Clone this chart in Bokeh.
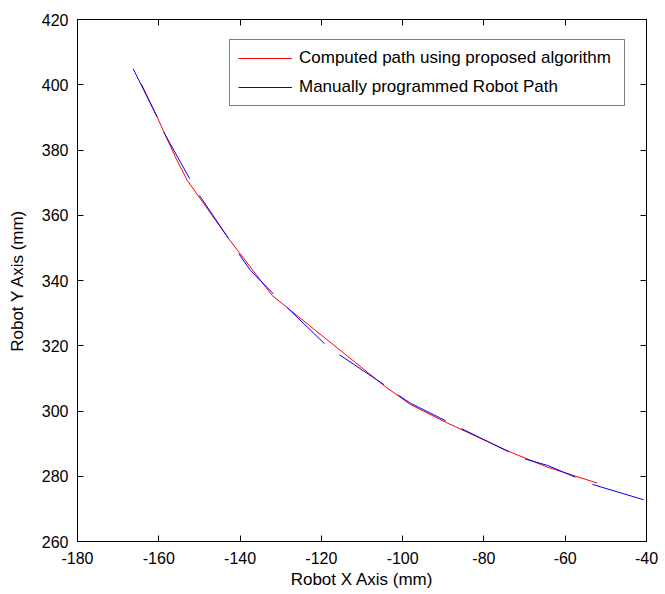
from bokeh.plotting import figure
from bokeh.models import Range1d, LinearAxis, SingleIntervalTicker, Legend, LegendItem, CustomJSTickFormatter
from bokeh.embed import file_html
from bokeh.resources import INLINE

# Computed path (red), continuous polyline
red_x = [-164.3, -160.4, -155.9, -153.0, -142.8, -132.1, -104.6, -98.1, -89.0, -73.5, -64.4, -52.1]
red_y = [400.3, 390.1, 377.8, 370.7, 352.8, 335.4, 307.8, 302.0, 296.3, 287.4, 282.8, 277.9]

# Manually programmed path (blue), separate segments
blue_xs = [
    [-166.3, -160.4],
    [-158.8, -152.4],
    [-150.0, -142.8],
    [-140.3, -137.4, -131.8],
    [-128.4, -119.2],
    [-115.5, -104.6],
    [-101.1, -98.1, -89.4],
    [-85.5, -73.9],
    [-69.9, -64.3, -57.5],
    [-53.3, -40.7],
]
blue_ys = [
    [404.9, 390.1],
    [385.5, 371.2],
    [366.1, 352.8],
    [348.2, 343.0, 335.9],
    [331.7, 320.6],
    [317.2, 308.1],
    [304.9, 302.4, 297.0],
    [294.6, 287.5],
    [285.3, 283.3, 279.7],
    [277.5, 272.8],
]

x_label = "Robot X Axis (mm)"
y_label = "Robot Y Axis (mm)"
red_name = "Computed path using proposed algorithm"
blue_name = "Manually programmed Robot Path"

FONT = "Liberation Sans"

p = figure(width=658, height=592, output_backend="svg", toolbar_location=None,
           x_range=Range1d(-180, -40), y_range=Range1d(260, 420),
           min_border_left=77, min_border_right=12, min_border_top=19, min_border_bottom=51)
p.background_fill_color = "white"
p.border_fill_color = "white"
p.outline_line_color = "black"
p.outline_line_width = 1
p.xgrid.visible = False
p.ygrid.visible = False

fmt = CustomJSTickFormatter(code="return tick.toFixed(0);")
p.xaxis.ticker = SingleIntervalTicker(interval=20)
p.yaxis.ticker = SingleIntervalTicker(interval=20)
p.xaxis.formatter = fmt
p.yaxis.formatter = CustomJSTickFormatter(code="return tick.toFixed(0);")

for ax in (p.xaxis[0], p.yaxis[0]):
    ax.major_tick_in = 6
    ax.major_tick_out = 0
    ax.minor_tick_line_color = None
    ax.axis_line_color = "black"
    ax.major_tick_line_color = "black"
    ax.major_label_text_font = FONT
    ax.major_label_text_font_size = "16px"
    ax.major_label_text_color = "black"
    ax.axis_label_text_font = FONT
    ax.axis_label_text_font_size = "17px"
    ax.axis_label_text_font_style = "normal"
    ax.axis_label_text_color = "black"

p.xaxis.axis_label = x_label
p.yaxis.axis_label = y_label
p.xaxis.major_label_standoff = 6
p.xaxis.axis_label_standoff = 3
p.yaxis.major_label_standoff = 5
p.yaxis.axis_label_standoff = 12

for loc in ("above", "right"):
    ax = LinearAxis(ticker=SingleIntervalTicker(interval=20))
    ax.major_tick_in = 6
    ax.major_tick_out = 0
    ax.minor_tick_line_color = None
    ax.axis_line_color = None
    ax.major_tick_line_color = "black"
    ax.major_label_text_font_size = "0px"
    ax.major_label_text_color = None
    ax.major_label_standoff = 0
    p.add_layout(ax, loc)

r_red = p.line(red_x, red_y, line_color="#ff0000", line_width=1)
r_blue = p.multi_line(blue_xs, blue_ys, line_color="#0000ff", line_width=1)

legend = Legend(items=[LegendItem(label=red_name, renderers=[r_red]),
                       LegendItem(label=blue_name, renderers=[r_blue])],
                location=(152, 435))
legend.label_text_font = FONT
legend.label_text_font_size = "17px"
legend.label_text_color = "black"
legend.glyph_width = 54
legend.glyph_height = 20
legend.label_standoff = 7
legend.label_height = 20
legend.label_width = 317
legend.spacing = 9
legend.padding = 8
legend.margin = 0
legend.border_line_color = "black"
legend.border_line_width = 1
legend.background_fill_color = "white"
legend.background_fill_alpha = 1
p.add_layout(legend, "center")

open("out.html", "w").write(file_html(p, INLINE))
